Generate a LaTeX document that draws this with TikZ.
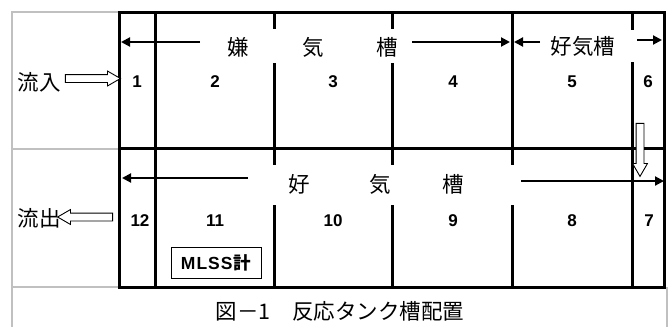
\documentclass[tikz,border=0pt]{standalone}
\usepackage{fontspec}
\setmainfont{Liberation Sans}
\newfontfamily\jp{Noto Sans CJK JP}
\usetikzlibrary{arrows.meta,shapes.arrows}
\definecolor{framegray}{RGB}{192,192,192}
\begin{document}
\begin{tikzpicture}[x=1pt,y=-1pt,
  wall/.style={line width=3pt,black},
  frameline/.style={line width=1.5pt,framegray},
  num/.style={font=\fontsize{17}{17}\selectfont\bfseries,inner sep=0pt},
  jlab/.style={font=\jp\fontsize{21.5}{21.5}\selectfont,inner sep=0pt},
  flow/.style={line width=2pt,-{Triangle[length=9pt,width=9pt]}},
  hollow/.style={single arrow,draw,line width=0.9pt,fill=white,inner sep=3.5pt,
    minimum width=14pt,single arrow head extend=3.5pt,single arrow tip angle=60,minimum height=55pt}]
\useasboundingbox (0,0) rectangle (671,327);
% grey frame
\draw[frameline] (119,12) -- (12,12) -- (12,327);
\draw[frameline] (12,149) -- (119,149);
\draw[frameline] (12,287) -- (119,287);
\draw[frameline] (667,287) -- (667,327);
% tank walls
\draw[wall] (119,12) rectangle (664,287);
\draw[wall] (119,148) -- (664,148);
\draw[wall] (155,12) -- (155,287);
\draw[wall] (274,12) -- (274,29) (274,63) -- (274,165) (274,205) -- (274,287);
\draw[wall] (392,12) -- (392,29) (392,63) -- (392,165) (392,205) -- (392,287);
\draw[wall] (512,12) -- (512,165) (512,205) -- (512,287);
\draw[wall] (632,12) -- (632,30) (632,62) -- (632,287);
% cell numbers
\node[num] (n1) at (137,82) {1};
\node[num] (n2) at (215,82) {2};
\node[num] (n3) at (333,82) {3};
\node[num] (n4) at (453,82) {4};
\node[num] (n5) at (572,82) {5};
\node[num] (n6) at (648,82) {6};
\node[num] (n12) at (140,221) {12};
\node[num] (n11) at (215,221) {11};
\node[num] (n10) at (333,221) {10};
\node[num] (n9) at (453,221) {9};
\node[num] (n8) at (572,221) {8};
\node[num] (n7) at (649,221) {7};
% zone labels
\node[jlab] (k1) at (238,47) {嫌};
\node[jlab] (k2) at (313,47) {気};
\node[jlab] (k3) at (387,47) {槽};
\node[jlab] (ko) at (583,46) {好気槽};
\node[jlab] (l1) at (299,184) {好};
\node[jlab] (l2) at (380,184) {気};
\node[jlab] (l3) at (453,184) {槽};
% flow arrows
\coordinate (a1s) at (200,42); \coordinate (a1e) at (121,42);
\coordinate (a2s) at (412,42); \coordinate (a2e) at (510,42);
\coordinate (a3s) at (540,42); \coordinate (a3e) at (514,42);
\coordinate (a4s) at (637,40); \coordinate (a4e) at (662,40);
\coordinate (b1s) at (248,178); \coordinate (b1e) at (122,178);
\coordinate (b2s) at (521,181); \coordinate (b2e) at (664,181);
\draw[flow] (a1s) -- (a1e);
\draw[flow] (a2s) -- (a2e);
\draw[flow] (a3s) -- (a3e);
\draw[flow] (a4s) -- (a4e);
\draw[flow] (b1s) -- (b1e);
\draw[flow] (b2s) -- (b2e);
% inflow / outflow
\node[jlab,anchor=east] (in) at (61,82) {流入};
\node[jlab,anchor=east] (out) at (61,218) {流出};
\node[hollow] (hin) at (89.5,78.5) {};
\node[hollow,shape border rotate=180] (hout) at (88.5,217) {};
\node[hollow,shape border rotate=270,minimum height=53pt] (hdown) at (640,146.5) {};
% MLSS
\node[draw,line width=1pt,minimum width=90pt,minimum height=31pt,inner sep=0pt,
  font=\fontsize{17.5}{17.5}\selectfont\bfseries] (mlss) at (216,262.5)
  {M\kern1pt L\kern1pt S\kern1pt S\kern1pt{\jp\bfseries 計}};
% caption
\node[jlab] (cap) at (340,311) {図－1　反応タンク槽配置};
\end{tikzpicture}
\end{document}
